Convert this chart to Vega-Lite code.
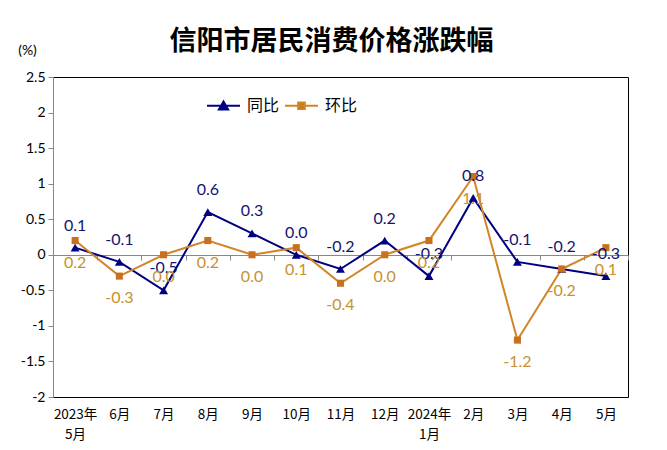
{
  "$schema": "https://vega.github.io/schema/vega-lite/v6.json",
  "width": 575,
  "height": 320,
  "autosize": {"type": "none"},
  "padding": {"left": 53, "top": 77, "right": 39, "bottom": 53},
  "background": "white",
  "title": {
    "text": "信阳市居民消费价格涨跌幅",
    "font": "Noto Sans CJK SC",
    "fontSize": 27,
    "fontWeight": "bold",
    "color": "#000000",
    "anchor": "middle",
    "dx": -9,
    "offset": -13
  },
  "config": {
    "view": {"stroke": "#000000", "strokeWidth": 1},
    "font": "Lato"
  },
  "data": {
    "values": [
      {"m": "2023年/5月", "s": "同比", "v": 0.1},
      {"m": "6月", "s": "同比", "v": -0.1},
      {"m": "7月", "s": "同比", "v": -0.5},
      {"m": "8月", "s": "同比", "v": 0.6},
      {"m": "9月", "s": "同比", "v": 0.3},
      {"m": "10月", "s": "同比", "v": 0.0},
      {"m": "11月", "s": "同比", "v": -0.2},
      {"m": "12月", "s": "同比", "v": 0.2},
      {"m": "2024年/1月", "s": "同比", "v": -0.3},
      {"m": "2月", "s": "同比", "v": 0.8},
      {"m": "3月", "s": "同比", "v": -0.1},
      {"m": "4月", "s": "同比", "v": -0.2},
      {"m": "5月", "s": "同比", "v": -0.3},
      {"m": "2023年/5月", "s": "环比", "v": 0.2},
      {"m": "6月", "s": "环比", "v": -0.3},
      {"m": "7月", "s": "环比", "v": 0.0},
      {"m": "8月", "s": "环比", "v": 0.2},
      {"m": "9月", "s": "环比", "v": 0.0},
      {"m": "10月", "s": "环比", "v": 0.1},
      {"m": "11月", "s": "环比", "v": -0.4},
      {"m": "12月", "s": "环比", "v": 0.0},
      {"m": "2024年/1月", "s": "环比", "v": 0.2},
      {"m": "2月", "s": "环比", "v": 1.1},
      {"m": "3月", "s": "环比", "v": -1.2},
      {"m": "4月", "s": "环比", "v": -0.2},
      {"m": "5月", "s": "环比", "v": 0.1}
    ]
  },
  "transform": [
    {"calculate": "replace(format(datum.v, '.1f'), '−', '-')", "as": "lab"}
  ],
  "encoding": {
    "x": {
      "field": "m",
      "type": "nominal",
      "sort": ["2023年/5月", "6月", "7月", "8月", "9月", "10月", "11月", "12月", "2024年/1月", "2月", "3月", "4月", "5月"],
      "scale": {"paddingInner": 0, "paddingOuter": 0},
      "axis": {
        "title": null,
        "offset": -142,
        "labelAngle": 0,
        "labelExpr": "datum.value ? split(datum.value, '/') : ''",
        "labelFont": "Noto Sans CJK SC",
        "labelFontSize": 13.5,
        "labelColor": "#000000",
        "labelPadding": 147,
        "labelBaseline": "top",
        "labelLineHeight": 20,
        "domainColor": "#888888",
        "tickColor": "#888888",
        "tickSize": 5,
        "tickBand": "extent",
        "grid": false,
        "zindex": 0
      }
    },
    "y": {
      "field": "v",
      "type": "quantitative",
      "scale": {"domain": [-2, 2.5], "nice": false, "zero": false},
      "axis": {
        "title": "(%)",
        "titleAngle": 0,
        "titleX": -26,
        "titleY": -27,
        "titleAlign": "center",
        "titleBaseline": "middle",
        "titleFont": "Lato",
        "titleFontSize": 14,
        "titleFontWeight": "normal",
        "titleColor": "#000000",
        "values": [-2, -1.5, -1, -0.5, 0, 0.5, 1, 1.5, 2, 2.5],
        "labelExpr": "'' + datum.value",
        "labelFontSize": 14,
        "labelColor": "#000000",
        "labelPadding": 3,
        "domainColor": "#888888",
        "tickColor": "#888888",
        "tickSize": 5,
        "grid": false,
        "zindex": 1
      }
    }
  },
  "layer": [
    {
      "mark": {"type": "line", "strokeWidth": 2},
      "encoding": {
        "color": {
          "field": "s",
          "type": "nominal",
          "scale": {"domain": ["同比", "环比"], "range": ["#000080", "#D08526"]},
          "legend": {
            "title": null,
            "orient": "none",
            "direction": "horizontal",
            "legendX": 153,
            "legendY": 11,
            "padding": 0,
            "symbolSize": 1089,
            "symbolStrokeWidth": 2,
            "labelFont": "Noto Sans CJK SC",
            "labelFontSize": 16,
            "labelColor": "#000000",
            "labelOffset": 6,
            "columnPadding": 1,
            "encode": {
              "symbols": {
                "update": {
                  "shape": {"signal": "datum.label === '同比' ? 'M-1,0H1M-0.28,0.22L0,-0.26L0.28,0.22Z' : 'M-1,0H1M-0.2,-0.2H0.2V0.2H-0.2Z'"},
                  "fill": {"signal": "datum.label === '同比' ? '#000080' : '#C8701E'"},
                  "size": {"value": 1089},
                  "strokeWidth": {"value": 2}
                }
              }
            }
          }
        }
      }
    },
    {
      "mark": {"type": "point", "filled": true, "opacity": 1},
      "encoding": {
        "shape": {
          "field": "s",
          "type": "nominal",
          "scale": {"domain": ["环比", "同比"], "range": ["square", "triangle-up"]},
          "legend": null
        },
        "size": {
          "field": "s",
          "type": "nominal",
          "scale": {"domain": ["环比", "同比"], "range": [50, 80]},
          "legend": null
        },
        "fill": {
          "field": "s",
          "type": "nominal",
          "scale": {"domain": ["环比", "同比"], "range": ["#C8701E", "#000080"]},
          "legend": null
        }
      }
    },
    {
      "transform": [{"filter": "datum.s === '同比'"}],
      "mark": {"type": "text", "dy": -22, "fontSize": 16, "font": "Lato", "color": "#14146E"},
      "encoding": {"text": {"field": "lab"}}
    },
    {
      "transform": [{"filter": "datum.s === '环比'"}],
      "mark": {"type": "text", "dy": 22, "fontSize": 16, "font": "Lato", "color": "#C8902E"},
      "encoding": {"text": {"field": "lab"}}
    }
  ]
}
